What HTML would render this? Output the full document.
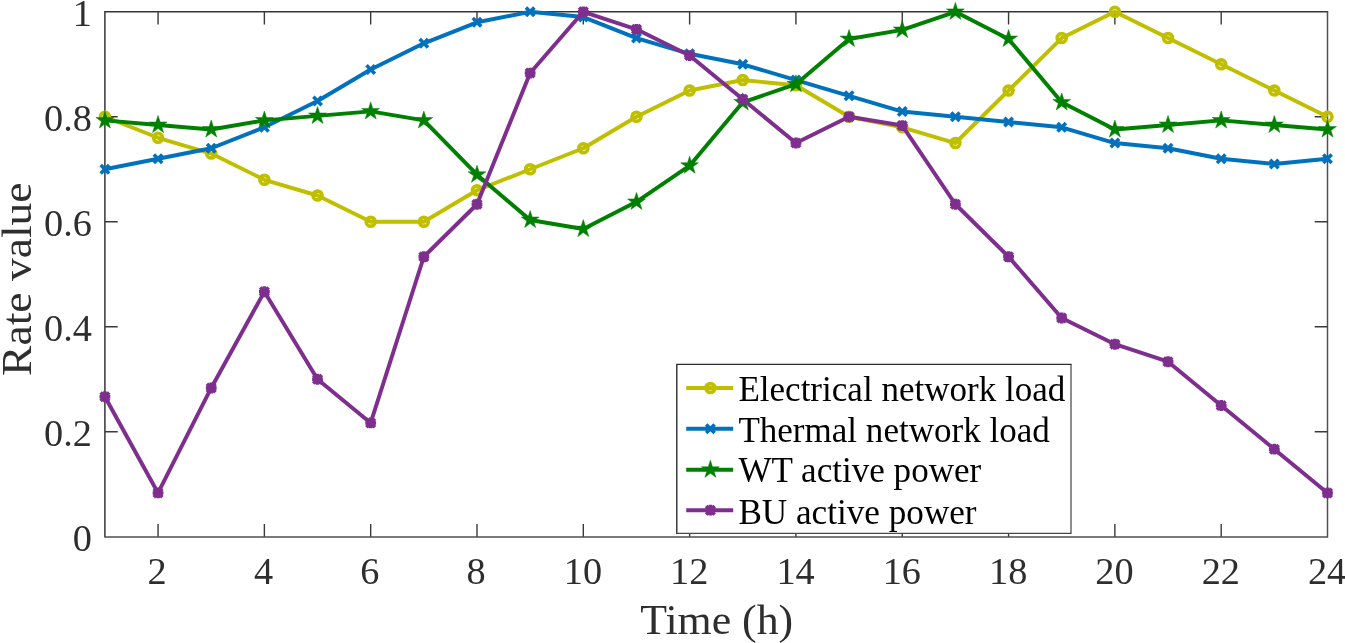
<!DOCTYPE html>
<html><head><meta charset="utf-8"><title>Rate value chart</title>
<style>
html,body{margin:0;padding:0;background:#fff;}
body{width:1345px;height:643px;overflow:hidden;}
svg{display:block;}
text{font-family:"Liberation Serif",serif;}
</style></head><body>
<svg width="1345" height="643" viewBox="0 0 1345 643">
<rect width="1345" height="643" fill="#fff"/>
<path d="M104.9 537.5V11.8H1328.2" fill="none" stroke="#363636" stroke-width="1.5" stroke-linejoin="miter"/>
<path d="M104.9 536.90H1327.5V11.8" fill="none" stroke="#505050" stroke-width="1.5" stroke-linejoin="miter"/>
<path d="M158.06 536.7v-12.8M158.06 11.8v12.8M264.37 536.7v-12.8M264.37 11.8v12.8M370.68 536.7v-12.8M370.68 11.8v12.8M477.00 536.7v-12.8M477.00 11.8v12.8M583.31 536.7v-12.8M583.31 11.8v12.8M689.62 536.7v-12.8M689.62 11.8v12.8M795.93 536.7v-12.8M795.93 11.8v12.8M902.25 536.7v-12.8M902.25 11.8v12.8M1008.56 536.7v-12.8M1008.56 11.8v12.8M1114.87 536.7v-12.8M1114.87 11.8v12.8M1221.19 536.7v-12.8M1221.19 11.8v12.8M104.9 431.72h12.8M1327.5 431.72h-12.8M104.9 326.74h12.8M1327.5 326.74h-12.8M104.9 221.76h12.8M1327.5 221.76h-12.8M104.9 116.78h12.8M1327.5 116.78h-12.8" stroke="#3a3a3a" stroke-width="1.4" fill="none"/>
<text x="157.16" y="584.3" font-size="38.3" text-anchor="middle" fill="#2e2e2e">2</text>
<text x="263.47" y="584.3" font-size="38.3" text-anchor="middle" fill="#2e2e2e">4</text>
<text x="369.78" y="584.3" font-size="38.3" text-anchor="middle" fill="#2e2e2e">6</text>
<text x="476.10" y="584.3" font-size="38.3" text-anchor="middle" fill="#2e2e2e">8</text>
<text x="582.91" y="584.3" font-size="38.3" text-anchor="middle" fill="#2e2e2e">10</text>
<text x="689.22" y="584.3" font-size="38.3" text-anchor="middle" fill="#2e2e2e">12</text>
<text x="795.53" y="584.3" font-size="38.3" text-anchor="middle" fill="#2e2e2e">14</text>
<text x="901.85" y="584.3" font-size="38.3" text-anchor="middle" fill="#2e2e2e">16</text>
<text x="1008.16" y="584.3" font-size="38.3" text-anchor="middle" fill="#2e2e2e">18</text>
<text x="1114.47" y="584.3" font-size="38.3" text-anchor="middle" fill="#2e2e2e">20</text>
<text x="1220.79" y="584.3" font-size="38.3" text-anchor="middle" fill="#2e2e2e">22</text>
<text x="1327.10" y="584.3" font-size="38.3" text-anchor="middle" fill="#2e2e2e">24</text>
<text x="91.9" y="551.30" font-size="38.3" text-anchor="end" fill="#2e2e2e">0</text>
<text x="91.9" y="446.32" font-size="38.3" text-anchor="end" fill="#2e2e2e">0.2</text>
<text x="91.9" y="341.34" font-size="38.3" text-anchor="end" fill="#2e2e2e">0.4</text>
<text x="91.9" y="236.36" font-size="38.3" text-anchor="end" fill="#2e2e2e">0.6</text>
<text x="91.9" y="131.38" font-size="38.3" text-anchor="end" fill="#2e2e2e">0.8</text>
<text x="91.9" y="26.40" font-size="38.3" text-anchor="end" fill="#2e2e2e">1</text>
<text x="716.7" y="634.3" font-size="43" text-anchor="middle" fill="#2e2e2e" textLength="153" lengthAdjust="spacingAndGlyphs">Time (h)</text>
<text transform="translate(30.7 279.2) rotate(-90)" font-size="43" text-anchor="middle" fill="#2e2e2e" textLength="193.5" lengthAdjust="spacingAndGlyphs">Rate value</text>
<g>
<polyline points="104.90,116.78 158.06,137.78 211.21,153.52 264.37,179.77 317.53,195.51 370.68,221.76 423.84,221.76 477.00,190.27 530.15,169.27 583.31,148.27 636.47,116.78 689.62,90.53 742.78,80.04 795.93,85.29 849.09,116.78 902.25,127.28 955.40,143.02 1008.56,90.53 1061.72,38.04 1114.87,11.80 1168.03,38.04 1221.19,64.29 1274.34,90.53 1327.50,116.78" fill="none" stroke="#bfbf00" stroke-width="3.95" stroke-linejoin="round"/>
<circle cx="104.90" cy="116.78" r="4.45" fill="none" stroke="#bfbf00" stroke-width="3.7"/>
<circle cx="158.06" cy="137.78" r="4.45" fill="none" stroke="#bfbf00" stroke-width="3.7"/>
<circle cx="211.21" cy="153.52" r="4.45" fill="none" stroke="#bfbf00" stroke-width="3.7"/>
<circle cx="264.37" cy="179.77" r="4.45" fill="none" stroke="#bfbf00" stroke-width="3.7"/>
<circle cx="317.53" cy="195.51" r="4.45" fill="none" stroke="#bfbf00" stroke-width="3.7"/>
<circle cx="370.68" cy="221.76" r="4.45" fill="none" stroke="#bfbf00" stroke-width="3.7"/>
<circle cx="423.84" cy="221.76" r="4.45" fill="none" stroke="#bfbf00" stroke-width="3.7"/>
<circle cx="477.00" cy="190.27" r="4.45" fill="none" stroke="#bfbf00" stroke-width="3.7"/>
<circle cx="530.15" cy="169.27" r="4.45" fill="none" stroke="#bfbf00" stroke-width="3.7"/>
<circle cx="583.31" cy="148.27" r="4.45" fill="none" stroke="#bfbf00" stroke-width="3.7"/>
<circle cx="636.47" cy="116.78" r="4.45" fill="none" stroke="#bfbf00" stroke-width="3.7"/>
<circle cx="689.62" cy="90.53" r="4.45" fill="none" stroke="#bfbf00" stroke-width="3.7"/>
<circle cx="742.78" cy="80.04" r="4.45" fill="none" stroke="#bfbf00" stroke-width="3.7"/>
<circle cx="795.93" cy="85.29" r="4.45" fill="none" stroke="#bfbf00" stroke-width="3.7"/>
<circle cx="849.09" cy="116.78" r="4.45" fill="none" stroke="#bfbf00" stroke-width="3.7"/>
<circle cx="902.25" cy="127.28" r="4.45" fill="none" stroke="#bfbf00" stroke-width="3.7"/>
<circle cx="955.40" cy="143.02" r="4.45" fill="none" stroke="#bfbf00" stroke-width="3.7"/>
<circle cx="1008.56" cy="90.53" r="4.45" fill="none" stroke="#bfbf00" stroke-width="3.7"/>
<circle cx="1061.72" cy="38.04" r="4.45" fill="none" stroke="#bfbf00" stroke-width="3.7"/>
<circle cx="1114.87" cy="11.80" r="4.45" fill="none" stroke="#bfbf00" stroke-width="3.7"/>
<circle cx="1168.03" cy="38.04" r="4.45" fill="none" stroke="#bfbf00" stroke-width="3.7"/>
<circle cx="1221.19" cy="64.29" r="4.45" fill="none" stroke="#bfbf00" stroke-width="3.7"/>
<circle cx="1274.34" cy="90.53" r="4.45" fill="none" stroke="#bfbf00" stroke-width="3.7"/>
<circle cx="1327.50" cy="116.78" r="4.45" fill="none" stroke="#bfbf00" stroke-width="3.7"/>
<polyline points="104.90,169.27 158.06,158.77 211.21,148.27 264.37,127.28 317.53,101.03 370.68,69.54 423.84,43.29 477.00,22.30 530.15,11.80 583.31,17.05 636.47,38.04 689.62,53.79 742.78,64.29 795.93,80.04 849.09,95.78 902.25,111.53 955.40,116.78 1008.56,122.03 1061.72,127.28 1114.87,143.02 1168.03,148.27 1221.19,158.77 1274.34,164.02 1327.50,158.77" fill="none" stroke="#0072bd" stroke-width="3.95" stroke-linejoin="round"/>
<path d="M100.70 165.07L109.10 173.47M100.70 173.47L109.10 165.07" stroke="#0072bd" stroke-width="3.6" fill="none"/>
<path d="M153.86 154.57L162.26 162.97M153.86 162.97L162.26 154.57" stroke="#0072bd" stroke-width="3.6" fill="none"/>
<path d="M207.01 144.07L215.41 152.47M207.01 152.47L215.41 144.07" stroke="#0072bd" stroke-width="3.6" fill="none"/>
<path d="M260.17 123.08L268.57 131.48M260.17 131.48L268.57 123.08" stroke="#0072bd" stroke-width="3.6" fill="none"/>
<path d="M313.33 96.83L321.73 105.23M313.33 105.23L321.73 96.83" stroke="#0072bd" stroke-width="3.6" fill="none"/>
<path d="M366.48 65.34L374.88 73.74M366.48 73.74L374.88 65.34" stroke="#0072bd" stroke-width="3.6" fill="none"/>
<path d="M419.64 39.09L428.04 47.49M419.64 47.49L428.04 39.09" stroke="#0072bd" stroke-width="3.6" fill="none"/>
<path d="M472.80 18.10L481.20 26.50M472.80 26.50L481.20 18.10" stroke="#0072bd" stroke-width="3.6" fill="none"/>
<path d="M525.95 7.60L534.35 16.00M525.95 16.00L534.35 7.60" stroke="#0072bd" stroke-width="3.6" fill="none"/>
<path d="M579.11 12.85L587.51 21.25M579.11 21.25L587.51 12.85" stroke="#0072bd" stroke-width="3.6" fill="none"/>
<path d="M632.27 33.84L640.67 42.24M632.27 42.24L640.67 33.84" stroke="#0072bd" stroke-width="3.6" fill="none"/>
<path d="M685.42 49.59L693.82 57.99M685.42 57.99L693.82 49.59" stroke="#0072bd" stroke-width="3.6" fill="none"/>
<path d="M738.58 60.09L746.98 68.49M738.58 68.49L746.98 60.09" stroke="#0072bd" stroke-width="3.6" fill="none"/>
<path d="M791.73 75.84L800.13 84.24M791.73 84.24L800.13 75.84" stroke="#0072bd" stroke-width="3.6" fill="none"/>
<path d="M844.89 91.58L853.29 99.98M844.89 99.98L853.29 91.58" stroke="#0072bd" stroke-width="3.6" fill="none"/>
<path d="M898.05 107.33L906.45 115.73M898.05 115.73L906.45 107.33" stroke="#0072bd" stroke-width="3.6" fill="none"/>
<path d="M951.20 112.58L959.60 120.98M951.20 120.98L959.60 112.58" stroke="#0072bd" stroke-width="3.6" fill="none"/>
<path d="M1004.36 117.83L1012.76 126.23M1004.36 126.23L1012.76 117.83" stroke="#0072bd" stroke-width="3.6" fill="none"/>
<path d="M1057.52 123.08L1065.92 131.48M1057.52 131.48L1065.92 123.08" stroke="#0072bd" stroke-width="3.6" fill="none"/>
<path d="M1110.67 138.82L1119.07 147.22M1110.67 147.22L1119.07 138.82" stroke="#0072bd" stroke-width="3.6" fill="none"/>
<path d="M1163.83 144.07L1172.23 152.47M1163.83 152.47L1172.23 144.07" stroke="#0072bd" stroke-width="3.6" fill="none"/>
<path d="M1216.99 154.57L1225.39 162.97M1216.99 162.97L1225.39 154.57" stroke="#0072bd" stroke-width="3.6" fill="none"/>
<path d="M1270.14 159.82L1278.54 168.22M1270.14 168.22L1278.54 159.82" stroke="#0072bd" stroke-width="3.6" fill="none"/>
<path d="M1323.30 154.57L1331.70 162.97M1323.30 162.97L1331.70 154.57" stroke="#0072bd" stroke-width="3.6" fill="none"/>
<polyline points="104.90,120.40 158.06,124.93 211.21,129.45 264.37,120.40 317.53,115.88 370.68,111.35 423.84,120.40 477.00,174.70 530.15,219.95 583.31,229.00 636.47,201.85 689.62,165.65 742.78,102.30 795.93,84.20 849.09,38.95 902.25,29.90 955.40,11.80 1008.56,38.95 1061.72,102.30 1114.87,129.45 1168.03,124.93 1221.19,120.40 1274.34,124.93 1327.50,129.45" fill="none" stroke="#008000" stroke-width="3.95" stroke-linejoin="round"/>
<polygon points="104.90,111.00 107.01,117.49 113.84,117.50 108.32,121.51 110.43,128.00 104.90,123.99 99.37,128.00 101.48,121.51 95.96,117.50 102.79,117.49" fill="#008000" stroke="#008000" stroke-width="0.5" stroke-linejoin="miter"/>
<polygon points="158.06,115.53 160.17,122.02 167.00,122.02 161.47,126.03 163.58,132.53 158.06,128.52 152.53,132.53 154.64,126.03 149.12,122.02 155.95,122.02" fill="#008000" stroke="#008000" stroke-width="0.5" stroke-linejoin="miter"/>
<polygon points="211.21,120.05 213.32,126.54 220.15,126.55 214.63,130.56 216.74,137.05 211.21,133.04 205.69,137.05 207.80,130.56 202.27,126.55 209.10,126.54" fill="#008000" stroke="#008000" stroke-width="0.5" stroke-linejoin="miter"/>
<polygon points="264.37,111.00 266.48,117.49 273.31,117.50 267.78,121.51 269.89,128.00 264.37,123.99 258.84,128.00 260.95,121.51 255.43,117.50 262.26,117.49" fill="#008000" stroke="#008000" stroke-width="0.5" stroke-linejoin="miter"/>
<polygon points="317.53,106.47 319.64,112.97 326.47,112.97 320.94,116.98 323.05,123.48 317.53,119.47 312.00,123.48 314.11,116.98 308.59,112.97 315.42,112.97" fill="#008000" stroke="#008000" stroke-width="0.5" stroke-linejoin="miter"/>
<polygon points="370.68,101.95 372.79,108.44 379.62,108.45 374.10,112.46 376.21,118.95 370.68,114.94 365.16,118.95 367.27,112.46 361.74,108.45 368.57,108.44" fill="#008000" stroke="#008000" stroke-width="0.5" stroke-linejoin="miter"/>
<polygon points="423.84,111.00 425.95,117.49 432.78,117.50 427.25,121.51 429.36,128.00 423.84,123.99 418.31,128.00 420.42,121.51 414.90,117.50 421.73,117.49" fill="#008000" stroke="#008000" stroke-width="0.5" stroke-linejoin="miter"/>
<polygon points="477.00,165.30 479.11,171.79 485.94,171.80 480.41,175.81 482.52,182.30 477.00,178.29 471.47,182.30 473.58,175.81 468.06,171.80 474.89,171.79" fill="#008000" stroke="#008000" stroke-width="0.5" stroke-linejoin="miter"/>
<polygon points="530.15,210.55 532.26,217.04 539.09,217.05 533.57,221.06 535.68,227.55 530.15,223.54 524.63,227.55 526.74,221.06 521.21,217.05 528.04,217.04" fill="#008000" stroke="#008000" stroke-width="0.5" stroke-linejoin="miter"/>
<polygon points="583.31,219.60 585.42,226.09 592.25,226.10 586.72,230.11 588.83,236.60 583.31,232.59 577.78,236.60 579.89,230.11 574.37,226.10 581.20,226.09" fill="#008000" stroke="#008000" stroke-width="0.5" stroke-linejoin="miter"/>
<polygon points="636.47,192.45 638.58,198.94 645.41,198.95 639.88,202.96 641.99,209.45 636.47,205.44 630.94,209.45 633.05,202.96 627.53,198.95 634.35,198.94" fill="#008000" stroke="#008000" stroke-width="0.5" stroke-linejoin="miter"/>
<polygon points="689.62,156.25 691.73,162.74 698.56,162.75 693.04,166.76 695.15,173.25 689.62,169.24 684.10,173.25 686.21,166.76 680.68,162.75 687.51,162.74" fill="#008000" stroke="#008000" stroke-width="0.5" stroke-linejoin="miter"/>
<polygon points="742.78,92.90 744.89,99.39 751.72,99.40 746.19,103.41 748.30,109.90 742.78,105.89 737.25,109.90 739.36,103.41 733.84,99.40 740.67,99.39" fill="#008000" stroke="#008000" stroke-width="0.5" stroke-linejoin="miter"/>
<polygon points="795.93,74.80 798.05,81.29 804.87,81.30 799.35,85.31 801.46,91.80 795.93,87.79 790.41,91.80 792.52,85.31 786.99,81.30 793.82,81.29" fill="#008000" stroke="#008000" stroke-width="0.5" stroke-linejoin="miter"/>
<polygon points="849.09,29.55 851.20,36.04 858.03,36.05 852.51,40.06 854.62,46.55 849.09,42.54 843.57,46.55 845.68,40.06 840.15,36.05 846.98,36.04" fill="#008000" stroke="#008000" stroke-width="0.5" stroke-linejoin="miter"/>
<polygon points="902.25,20.50 904.36,26.99 911.19,27.00 905.66,31.01 907.77,37.50 902.25,33.49 896.72,37.50 898.83,31.01 893.31,27.00 900.14,26.99" fill="#008000" stroke="#008000" stroke-width="0.5" stroke-linejoin="miter"/>
<polygon points="955.40,2.40 957.51,8.89 964.34,8.90 958.82,12.91 960.93,19.40 955.40,15.39 949.88,19.40 951.99,12.91 946.46,8.90 953.29,8.89" fill="#008000" stroke="#008000" stroke-width="0.5" stroke-linejoin="miter"/>
<polygon points="1008.56,29.55 1010.67,36.04 1017.50,36.05 1011.98,40.06 1014.09,46.55 1008.56,42.54 1003.04,46.55 1005.15,40.06 999.62,36.05 1006.45,36.04" fill="#008000" stroke="#008000" stroke-width="0.5" stroke-linejoin="miter"/>
<polygon points="1061.72,92.90 1063.83,99.39 1070.66,99.40 1065.13,103.41 1067.24,109.90 1061.72,105.89 1056.19,109.90 1058.30,103.41 1052.78,99.40 1059.61,99.39" fill="#008000" stroke="#008000" stroke-width="0.5" stroke-linejoin="miter"/>
<polygon points="1114.87,120.05 1116.98,126.54 1123.81,126.55 1118.29,130.56 1120.40,137.05 1114.87,133.04 1109.35,137.05 1111.46,130.56 1105.93,126.55 1112.76,126.54" fill="#008000" stroke="#008000" stroke-width="0.5" stroke-linejoin="miter"/>
<polygon points="1168.03,115.53 1170.14,122.02 1176.97,122.02 1171.45,126.03 1173.56,132.53 1168.03,128.52 1162.51,132.53 1164.62,126.03 1159.09,122.02 1165.92,122.02" fill="#008000" stroke="#008000" stroke-width="0.5" stroke-linejoin="miter"/>
<polygon points="1221.19,111.00 1223.30,117.49 1230.13,117.50 1224.60,121.51 1226.71,128.00 1221.19,123.99 1215.66,128.00 1217.77,121.51 1212.25,117.50 1219.08,117.49" fill="#008000" stroke="#008000" stroke-width="0.5" stroke-linejoin="miter"/>
<polygon points="1274.34,115.53 1276.45,122.02 1283.28,122.02 1277.76,126.03 1279.87,132.53 1274.34,128.52 1268.82,132.53 1270.93,126.03 1265.40,122.02 1272.23,122.02" fill="#008000" stroke="#008000" stroke-width="0.5" stroke-linejoin="miter"/>
<polygon points="1327.50,120.05 1329.61,126.54 1336.44,126.55 1330.92,130.56 1333.03,137.05 1327.50,133.04 1321.97,137.05 1324.08,130.56 1318.56,126.55 1325.39,126.54" fill="#008000" stroke="#008000" stroke-width="0.5" stroke-linejoin="miter"/>
<polyline points="104.90,396.73 158.06,492.96 211.21,387.98 264.37,291.75 317.53,379.23 370.68,422.97 423.84,256.75 477.00,204.26 530.15,73.04 583.31,11.80 636.47,29.30 689.62,55.54 742.78,99.28 795.93,143.02 849.09,116.78 902.25,125.53 955.40,204.26 1008.56,256.75 1061.72,317.99 1114.87,344.24 1168.03,361.73 1221.19,405.48 1274.34,449.22 1327.50,492.96" fill="none" stroke="#7e2f8e" stroke-width="3.95" stroke-linejoin="round"/>
<path d="M100.60 392.43L109.20 401.03M100.60 401.03L109.20 392.43M99.50 396.73H110.30M104.90 391.33V402.13" stroke="#7e2f8e" stroke-width="3.6" fill="none"/>
<path d="M153.76 488.66L162.36 497.26M153.76 497.26L162.36 488.66M152.66 492.96H163.46M158.06 487.56V498.36" stroke="#7e2f8e" stroke-width="3.6" fill="none"/>
<path d="M206.91 383.68L215.51 392.28M206.91 392.28L215.51 383.68M205.81 387.98H216.61M211.21 382.58V393.38" stroke="#7e2f8e" stroke-width="3.6" fill="none"/>
<path d="M260.07 287.45L268.67 296.05M260.07 296.05L268.67 287.45M258.97 291.75H269.77M264.37 286.35V297.15" stroke="#7e2f8e" stroke-width="3.6" fill="none"/>
<path d="M313.23 374.93L321.83 383.53M313.23 383.53L321.83 374.93M312.13 379.23H322.93M317.53 373.83V384.63" stroke="#7e2f8e" stroke-width="3.6" fill="none"/>
<path d="M366.38 418.67L374.98 427.27M366.38 427.27L374.98 418.67M365.28 422.97H376.08M370.68 417.57V428.37" stroke="#7e2f8e" stroke-width="3.6" fill="none"/>
<path d="M419.54 252.45L428.14 261.05M419.54 261.05L428.14 252.45M418.44 256.75H429.24M423.84 251.35V262.15" stroke="#7e2f8e" stroke-width="3.6" fill="none"/>
<path d="M472.70 199.96L481.30 208.56M472.70 208.56L481.30 199.96M471.60 204.26H482.40M477.00 198.86V209.66" stroke="#7e2f8e" stroke-width="3.6" fill="none"/>
<path d="M525.85 68.74L534.45 77.34M525.85 77.34L534.45 68.74M524.75 73.04H535.55M530.15 67.64V78.44" stroke="#7e2f8e" stroke-width="3.6" fill="none"/>
<path d="M579.01 7.50L587.61 16.10M579.01 16.10L587.61 7.50M577.91 11.80H588.71M583.31 6.40V17.20" stroke="#7e2f8e" stroke-width="3.6" fill="none"/>
<path d="M632.17 25.00L640.77 33.60M632.17 33.60L640.77 25.00M631.07 29.30H641.87M636.47 23.90V34.70" stroke="#7e2f8e" stroke-width="3.6" fill="none"/>
<path d="M685.32 51.24L693.92 59.84M685.32 59.84L693.92 51.24M684.22 55.54H695.02M689.62 50.14V60.94" stroke="#7e2f8e" stroke-width="3.6" fill="none"/>
<path d="M738.48 94.98L747.08 103.58M738.48 103.58L747.08 94.98M737.38 99.28H748.18M742.78 93.88V104.68" stroke="#7e2f8e" stroke-width="3.6" fill="none"/>
<path d="M791.63 138.72L800.23 147.32M791.63 147.32L800.23 138.72M790.53 143.02H801.33M795.93 137.62V148.42" stroke="#7e2f8e" stroke-width="3.6" fill="none"/>
<path d="M844.79 112.48L853.39 121.08M844.79 121.08L853.39 112.48M843.69 116.78H854.49M849.09 111.38V122.18" stroke="#7e2f8e" stroke-width="3.6" fill="none"/>
<path d="M897.95 121.23L906.55 129.83M897.95 129.83L906.55 121.23M896.85 125.53H907.65M902.25 120.13V130.93" stroke="#7e2f8e" stroke-width="3.6" fill="none"/>
<path d="M951.10 199.96L959.70 208.56M951.10 208.56L959.70 199.96M950.00 204.26H960.80M955.40 198.86V209.66" stroke="#7e2f8e" stroke-width="3.6" fill="none"/>
<path d="M1004.26 252.45L1012.86 261.05M1004.26 261.05L1012.86 252.45M1003.16 256.75H1013.96M1008.56 251.35V262.15" stroke="#7e2f8e" stroke-width="3.6" fill="none"/>
<path d="M1057.42 313.69L1066.02 322.29M1057.42 322.29L1066.02 313.69M1056.32 317.99H1067.12M1061.72 312.59V323.39" stroke="#7e2f8e" stroke-width="3.6" fill="none"/>
<path d="M1110.57 339.94L1119.17 348.54M1110.57 348.54L1119.17 339.94M1109.47 344.24H1120.27M1114.87 338.84V349.64" stroke="#7e2f8e" stroke-width="3.6" fill="none"/>
<path d="M1163.73 357.43L1172.33 366.03M1163.73 366.03L1172.33 357.43M1162.63 361.73H1173.43M1168.03 356.33V367.13" stroke="#7e2f8e" stroke-width="3.6" fill="none"/>
<path d="M1216.89 401.18L1225.49 409.78M1216.89 409.78L1225.49 401.18M1215.79 405.48H1226.59M1221.19 400.08V410.88" stroke="#7e2f8e" stroke-width="3.6" fill="none"/>
<path d="M1270.04 444.92L1278.64 453.52M1270.04 453.52L1278.64 444.92M1268.94 449.22H1279.74M1274.34 443.82V454.62" stroke="#7e2f8e" stroke-width="3.6" fill="none"/>
<path d="M1323.20 488.66L1331.80 497.26M1323.20 497.26L1331.80 488.66M1322.10 492.96H1332.90M1327.50 487.56V498.36" stroke="#7e2f8e" stroke-width="3.6" fill="none"/>
</g>
<rect x="676.8" y="364.4" width="394.20" height="168.90" fill="#fff" stroke="none"/>
<path d="M676.8 533.3H1071V364.4" fill="none" stroke="#4a4a4a" stroke-width="1.25"/>
<path d="M676.8 533.9V364.4H1071.6" fill="none" stroke="#2e2e2e" stroke-width="1.4"/>
<path d="M686.2 388.0H733.2" stroke="#bfbf00" stroke-width="3.9" fill="none"/>
<circle cx="710.40" cy="388.00" r="4.45" fill="none" stroke="#bfbf00" stroke-width="3.7"/>
<text x="738.4" y="400.5" font-size="34.9" fill="#000" textLength="326.9" lengthAdjust="spacingAndGlyphs">Electrical network load</text>
<path d="M686.2 428.8H733.2" stroke="#0072bd" stroke-width="3.9" fill="none"/>
<path d="M706.20 424.60L714.60 433.00M706.20 433.00L714.60 424.60" stroke="#0072bd" stroke-width="3.6" fill="none"/>
<text x="738.4" y="441.8" font-size="34.9" fill="#000" textLength="311.4" lengthAdjust="spacingAndGlyphs">Thermal network load</text>
<path d="M686.2 469.7H733.2" stroke="#008000" stroke-width="3.9" fill="none"/>
<polygon points="710.40,460.30 712.51,466.79 719.34,466.80 713.82,470.81 715.93,477.30 710.40,473.29 704.87,477.30 706.98,470.81 701.46,466.80 708.29,466.79" fill="#008000" stroke="#008000" stroke-width="0.5" stroke-linejoin="miter"/>
<text x="738.4" y="482.1" font-size="34.9" fill="#000" textLength="242.9" lengthAdjust="spacingAndGlyphs">WT active power</text>
<path d="M686.2 510.2H733.2" stroke="#7e2f8e" stroke-width="3.9" fill="none"/>
<path d="M706.10 505.90L714.70 514.50M706.10 514.50L714.70 505.90M705.00 510.20H715.80M710.40 504.80V515.60" stroke="#7e2f8e" stroke-width="3.6" fill="none"/>
<text x="738.4" y="523.7" font-size="34.9" fill="#000" textLength="238.2" lengthAdjust="spacingAndGlyphs">BU active power</text>
</svg>
</body></html>
